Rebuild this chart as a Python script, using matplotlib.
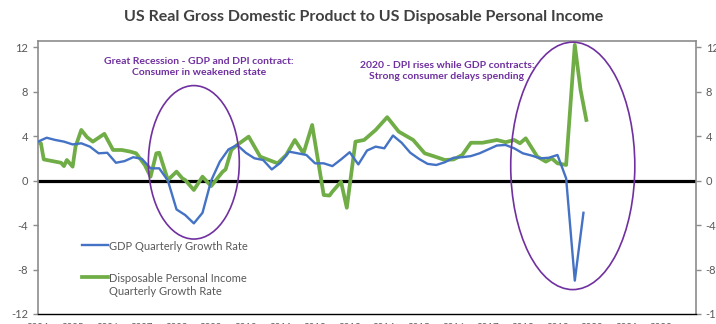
import numpy as np
import matplotlib.pyplot as plt
from matplotlib.patches import Ellipse

plt.rcParams['font.family'] = ['Lato', 'DejaVu Sans']

# real GDP, year-over-year % change, one value per quarter (Q4 2004 onward)
gdp_growth = [3.5, 3.85, 3.65, 3.5, 3.25, 3.35, 3.05, 2.45, 2.5, 1.6,
              1.75, 2.1, 1.95, 1.1, 1.1, 0.0, -2.6, -3.1, -3.85, -2.9,
              0.0, 1.7, 2.8, 3.2, 2.5, 2.0, 1.85, 1.0, 1.6, 2.6,
              2.45, 2.3, 1.55, 1.55, 1.3, 1.9, 2.55, 1.45, 2.7, 3.05,
              2.9, 4.05, 3.4, 2.5, 1.95, 1.5, 1.4, 1.65, 2.05, 2.1,
              2.2, 2.45, 2.8, 3.15, 3.2, 2.9, 2.45, 2.25, 2.0, 2.05,
              2.3, 0.2, -9.0, -2.9]

# disposable personal income, year-over-year % change (months since Oct 2004)
dpi_month = [0, 1, 2, 6, 8, 9, 10, 12, 13, 15, 17, 19, 23, 26, 29, 32, 34,
             37, 39, 41, 42, 45, 48, 50, 51, 54, 57, 60, 64, 65, 67, 69, 73,
             77, 80, 83, 86, 89, 92, 95, 99, 101, 102, 105, 107, 110, 113,
             117, 121, 125, 130, 134, 137, 141, 144, 147, 150, 154, 158, 159,
             162, 165, 167, 169, 173, 176, 178, 180, 183, 186, 188, 190]
dpi_growth = [3.4, 3.35, 1.9, 1.7, 1.6, 1.3, 1.85, 1.25, 3.05, 4.55, 3.9,
              3.5, 4.2, 2.75, 2.75, 2.6, 2.45, 1.4, 0.35, 2.45, 2.5, 0.05,
              0.8, 0.2, 0.05, -0.85, 0.35, -0.5, 0.8, 1.0, 2.75, 3.2, 3.95,
              2.15, 1.85, 1.55, 2.3, 3.65, 2.45, 5.0, -1.3, -1.35, -1.0,
              -0.1, -2.45, 3.5, 3.65, 4.55, 5.7, 4.4, 3.65, 2.45, 2.2, 1.85,
              1.9, 2.3, 3.4, 3.4, 3.6, 3.65, 3.45, 3.65, 3.35, 3.8, 2.15,
              1.7, 2.0, 1.55, 1.4, 12.2, 8.15, 5.45]

year_labels = [str(y) for y in range(2004, 2023)]
y_ticks = [-12, -8, -4, 0, 4, 8, 12]

gdp_month = np.arange(len(gdp_growth)) * 3

purple = '#7030A0'
grey_txt = '#595959'

fig = plt.figure(figsize=(7.16, 3.24), dpi=100)
ax = fig.add_axes([38 / 716, 10 / 324, 658 / 716, 273 / 324])

ax.axhline(0, color='black', lw=2.3, zorder=1)
ax.plot(gdp_month, gdp_growth, color='#4472C4', lw=1.7, zorder=3,
        label='GDP Quarterly Growth Rate')
ax.plot(dpi_month, dpi_growth, color='#70AD47', lw=2.7, zorder=2,
        label='Disposable Personal Income\nQuarterly Growth Rate')

ax.set_xlim(0, 228)
ax.set_ylim(-12, 12.55)
ax.set_xticks(np.arange(0, 217, 12))
ax.set_xticklabels(year_labels)
ax.set_yticks(y_ticks)
ax.set_yticklabels([str(v) for v in y_ticks])
ax.tick_params(axis='x', length=0, pad=6.5, labelsize=7, labelcolor=grey_txt)
ax.tick_params(axis='y', length=3.5, width=1, color='#8c8c8c', direction='out',
               pad=3.5, labelsize=8, labelcolor=grey_txt,
               right=True, labelright=True)

for side in ['left', 'right', 'top']:
    ax.spines[side].set_color('#8c8c8c')
    ax.spines[side].set_linewidth(1.2)
ax.spines['bottom'].set_color('black')
ax.spines['bottom'].set_linewidth(1.0)

# circled episodes
ax.add_patch(Ellipse((54, 1.64), 31.5, 13.8, fill=False, edgecolor=purple,
                     lw=1.2, zorder=4))
ax.add_patch(Ellipse((185.3, 1.32), 43, 22.25, fill=False, edgecolor=purple,
                     lw=1.2, zorder=4))

fig.text(199 / 716, 1 - 67 / 324,
         'Great Recession - GDP and DPI contract:\nConsumer in weakened state',
         ha='center', va='center', color=purple, fontsize=7.5,
         fontweight='bold', linespacing=1.3)
fig.text(447 / 716, 1 - 71 / 324,
         '2020 - DPI rises while GDP contracts:\nStrong consumer delays spending',
         ha='center', va='center', color=purple, fontsize=7.5,
         fontweight='bold', linespacing=1.3)

fig.text(364 / 716, 1 - 17 / 324,
         'US Real Gross Domestic Product to US Disposable Personal Income',
         ha='center', va='center', color='#404040', fontsize=11.5,
         fontweight='bold')

leg = ax.legend(loc='upper left', bbox_to_anchor=(82 / 716, 1 - 241 / 324),
                bbox_transform=fig.transFigure, frameon=False, fontsize=8,
                handlelength=2.3, handletextpad=0.15, borderpad=0,
                borderaxespad=0, labelspacing=1.9)
# keep each legend line level with the first line of its label
for column in leg._legend_handle_box.get_children():
    for row in column.get_children():
        row.align = 'top'
for t in leg.get_texts():
    t.set_color(grey_txt)

fig.savefig('out.png', dpi=100)
